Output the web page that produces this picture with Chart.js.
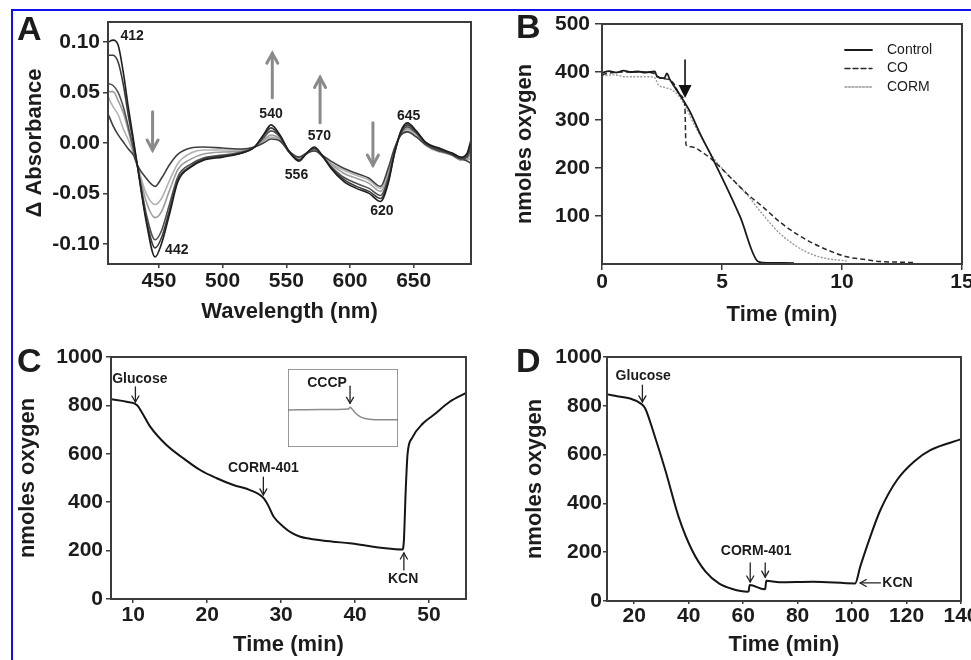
<!DOCTYPE html>
<html>
<head>
<meta charset="utf-8">
<script src="https://cdn.jsdelivr.net/npm/chart.js@4.4.0/dist/chart.umd.min.js"></script>
<style>
  html, body { margin: 0; padding: 0; background: #fff; width: 971px; height: 660px; overflow: hidden; position: relative; }
  canvas { position: absolute; }
  #frame { position: absolute; left: 11px; top: 9px; width: 980px; height: 670px; border-top: 2px solid #1010f0; border-left: 2px solid #1010f0; }
</style>
</head>
<body>
<div id="frame"></div>
<canvas id="panelA"></canvas>
<canvas id="panelB"></canvas>
<canvas id="panelC"></canvas>
<canvas id="panelD"></canvas>
<canvas id="insetC"></canvas>
<script>
// Panel A: difference spectra (delta absorbance vs wavelength)
const wavelengthNm = [410, 414, 418, 422, 426, 430, 433, 440, 447, 452, 458, 465, 475, 485, 500, 515, 525, 532, 538, 545, 552, 560,
  566, 572, 578, 585, 595, 605, 615, 624, 630, 635, 640, 645, 652, 660, 670, 680, 687, 692, 695];
const spectrum1 = [0.100, 0.102, 0.097, 0.070, 0.035, 0.003, -0.022, -0.078, -0.113, -0.100, -0.072, -0.038, -0.024, -0.017, -0.014, -0.010, -0.004, 0.008, 0.018, 0.008, -0.008, -0.018,
  -0.010, -0.004, -0.012, -0.025, -0.038, -0.045, -0.050, -0.058, -0.040, -0.010, 0.012, 0.020, 0.012, 0.000, -0.005, -0.010, -0.014, -0.010, 0.003];
const spectrum2 = [0.087, 0.087, 0.080, 0.058, 0.027, 0.000, -0.022, -0.075, -0.104, -0.094, -0.068, -0.036, -0.023, -0.016, -0.013, -0.010, -0.004, 0.007, 0.015, 0.007, -0.008, -0.017,
  -0.010, -0.005, -0.012, -0.024, -0.036, -0.043, -0.048, -0.055, -0.038, -0.010, 0.011, 0.018, 0.011, 0.000, -0.006, -0.011, -0.015, -0.012, 0.000];
const spectrum3 = [0.059, 0.057, 0.050, 0.036, 0.016, -0.006, -0.022, -0.070, -0.096, -0.087, -0.062, -0.033, -0.021, -0.015, -0.012, -0.009, -0.004, 0.005, 0.012, 0.006, -0.009, -0.017,
  -0.010, -0.006, -0.013, -0.023, -0.034, -0.040, -0.045, -0.052, -0.035, -0.008, 0.010, 0.016, 0.010, -0.001, -0.007, -0.012, -0.016, -0.014, -0.005];
const spectrum4 = [0.051, 0.051, 0.042, 0.030, 0.012, -0.008, -0.022, -0.058, -0.074, -0.068, -0.048, -0.026, -0.016, -0.011, -0.009, -0.008, -0.004, 0.003, 0.008, 0.004, -0.009, -0.016,
  -0.011, -0.007, -0.013, -0.021, -0.030, -0.035, -0.040, -0.048, -0.032, -0.007, 0.009, 0.014, 0.009, -0.002, -0.008, -0.012, -0.017, -0.016, -0.010];
const spectrum5 = [0.046, 0.036, 0.028, 0.014, 0.003, -0.010, -0.022, -0.050, -0.061, -0.055, -0.038, -0.020, -0.010, -0.007, -0.007, -0.007, -0.004, 0.002, 0.006, 0.003, -0.008, -0.015,
  -0.010, -0.007, -0.012, -0.020, -0.027, -0.032, -0.037, -0.045, -0.028, -0.006, 0.008, 0.012, 0.007, -0.003, -0.009, -0.011, -0.016, -0.017, -0.015];
const spectrum6 = [0.029, 0.017, 0.008, 0.001, -0.006, -0.012, -0.022, -0.035, -0.043, -0.035, -0.022, -0.011, -0.005, -0.004, -0.005, -0.006, -0.004, 0.000, 0.004, 0.002, -0.008, -0.014,
  -0.010, -0.008, -0.012, -0.018, -0.025, -0.030, -0.035, -0.043, -0.025, -0.005, 0.008, 0.011, 0.006, -0.002, -0.008, -0.010, -0.015, -0.018, -0.020];
const aXTicks = [450, 500, 550, 600, 650];
const aYTicks = [-0.10, -0.05, 0, 0.05, 0.10];

// Panel B: oxygen consumption, three traces
const controlTime = [0, 0.3, 0.6, 0.9, 1.2, 1.5, 1.8, 2.2, 2.3, 2.6, 2.7, 2.83, 3.25, 3.67, 4.08, 4.64, 5.75, 6.5, 6.7, 8.0];
const controlO2 = [398, 402, 399, 403, 400, 401, 399, 401, 390, 387, 397, 384, 352, 317, 272, 217, 99, 5, 3, 2];
const coTime = [0, 0.5, 1.0, 1.5, 2.0, 2.2, 2.4, 2.8, 3.0, 3.25, 3.45, 3.5, 3.75, 4.2, 4.6, 5.3, 6.03, 6.7, 7.4, 8.1, 8.8, 9.5, 10.2, 11.0, 11.6, 12.3, 13.0];
const coO2 = [395, 399, 400, 400, 399, 396, 388, 384, 375, 352, 332, 248, 244, 232, 217, 183, 147, 119, 88, 63, 43, 27, 15, 9, 5, 4, 3];
const cormTime = [0, 0.5, 1.0, 1.5, 2.0, 2.2, 2.35, 2.6, 2.9, 3.2, 3.46, 3.8, 4.2, 4.6, 5.3, 6.0, 6.7, 7.4, 8.1, 8.8, 9.4, 9.9, 10.2];
const cormO2 = [392, 394, 390, 390, 390, 388, 373, 368, 363, 350, 330, 295, 258, 224, 183, 147, 103, 64, 37, 19, 11, 8, 6];
const bXTicks = [0, 5, 10, 15];
const bYTicks = [100, 200, 300, 400, 500];
const bSeriesNames = ['Control', 'CO', 'CORM'];

// Panel C: glucose / CORM-401 / KCN trace
const cTime = [7, 9.1, 10.5, 11.2, 12.3, 14.5, 16.8, 19.05, 21.3, 23.55, 25.8, 27.6, 28.2, 29.0, 30.3, 31.5, 32.6, 34.8, 37.0, 39.3,
  41.6, 43.8, 46.4, 46.6, 46.85, 47.1, 47.7, 49.2, 50.6, 52.8, 55];
const cO2 = [825, 815, 802, 770, 712, 636, 581, 533, 499, 471, 450, 418, 390, 340, 299, 272, 257, 245, 237, 230,
  220, 211, 205, 240, 450, 600, 665, 726, 760, 815, 852];
const cXTicks = [10, 20, 30, 40, 50];
const cYTicks = [0, 200, 400, 600, 800, 1000];
// inset of panel C (arbitrary units)
const insetX = [0, 30, 55, 56.5, 58, 61, 65.5, 70, 76, 85, 100];
const insetY = [47.5, 48, 48.8, 51, 49, 44, 39, 36.5, 35.3, 35, 35];

// Panel D: glucose / two CORM-401 additions / KCN trace
const dTime = [10, 22.7, 24.0, 27.6, 31.4, 36.3, 41.2, 46.2, 51.1, 56.05, 61.6, 62.0, 62.4, 67.8, 68.1, 68.5, 73.3, 85.7, 101.1, 103,
  106.7, 110.4, 116.5, 122.7, 128.9, 140];
const dO2 = [847, 807, 790, 673, 537, 345, 209, 120, 72, 49, 38, 40, 66, 48, 50, 83, 77, 79, 72, 141,
  264, 373, 496, 571, 619, 663];
const dXTicks = [20, 40, 60, 80, 100, 120, 140];
const dYTicks = [0, 200, 400, 600, 800, 1000];

// annotations, in data coordinates of each panel
const aLabels = [
  { text: '412', x: 429, y: 0.106 }, { text: '442', x: 464, y: -0.106 }, { text: '540', x: 538, y: 0.029 },
  { text: '556', x: 558, y: -0.032 }, { text: '570', x: 576, y: 0.007 }, { text: '620', x: 625, y: -0.068 },
  { text: '645', x: 646, y: 0.027 }
];
const aArrows = [
  { x1: 445, y1: 0.031, x2: 445, y2: -0.007 }, { x1: 539, y1: 0.045, x2: 539, y2: 0.089 },
  { x1: 576.5, y1: 0.020, x2: 576.5, y2: 0.065 }, { x1: 618, y1: 0.020, x2: 618, y2: -0.022 }
];
const bArrows = [{ x1: 3.46, y1: 425, x2: 3.46, y2: 346 }];
const cLabels = [
  { text: 'Glucose', x: 10.9, y: 909 }, { text: 'CORM-401', x: 27.6, y: 541 }, { text: 'KCN', x: 46.5, y: 83 }
];
const cArrows = [
  { x1: 10.3, y1: 876, x2: 10.3, y2: 814 }, { x1: 27.6, y1: 504, x2: 27.6, y2: 430 }, { x1: 46.6, y1: 120, x2: 46.6, y2: 190 }
];
const insetLabels = [{ text: 'CCCP', x: 35.5, y: 82 }];
const insetArrows = [{ x1: 56.4, y1: 78, x2: 56.4, y2: 56 }];
const dLabels = [
  { text: 'Glucose', x: 23.3, y: 922 }, { text: 'CORM-401', x: 64.8, y: 205 }, { text: 'KCN', x: 111.1, y: 74, align: 'left' }
];
const dArrows = [
  { x1: 23.0, y1: 885, x2: 23.0, y2: 816 }, { x1: 62.6, y1: 156, x2: 62.6, y2: 78 },
  { x1: 68.1, y1: 156, x2: 68.1, y2: 98 }, { x1: 110.4, y1: 74, x2: 103, y2: 74 }
];

const FONT = '"Liberation Sans", Arial, Helvetica, sans-serif';
const INK = '#1c1c1c';
const AXIS = '#3c3c3c';

function xy(xs, ys) {
  return xs.map((v, i) => ({ x: v, y: ys[i] }));
}

function placeCanvas(id, box) {
  const c = document.getElementById(id);
  c.width = box.r - box.l;
  c.height = box.b - box.t;
  c.style.left = box.l + 'px';
  c.style.top = box.t + 'px';
  c.style.width = c.width + 'px';
  c.style.height = c.height + 'px';
  return c;
}

function drawArrow(ctx, x1, y1, x2, y2, st) {
  const ang = Math.atan2(y2 - y1, x2 - x1);
  const bx = x2 - st.head * Math.cos(ang), by = y2 - st.head * Math.sin(ang);
  const nx = -Math.sin(ang) * st.spread, ny = Math.cos(ang) * st.spread;
  ctx.strokeStyle = st.color;
  ctx.fillStyle = st.color;
  ctx.lineWidth = st.width;
  ctx.lineCap = 'round';
  ctx.beginPath();
  ctx.moveTo(x1, y1);
  ctx.lineTo(st.fill ? bx : x2, st.fill ? by : y2);
  ctx.stroke();
  ctx.beginPath();
  ctx.moveTo(bx + nx, by + ny);
  ctx.lineTo(x2, y2);
  ctx.lineTo(bx - nx, by - ny);
  if (st.fill) { ctx.closePath(); ctx.fill(); } else { ctx.stroke(); }
}

function axis(o) {
  const lh = 22 * 1.2;
  return {
    type: 'linear',
    min: o.min,
    max: o.max,
    display: o.display !== false,
    afterBuildTicks: s => { if (o.ticks) s.ticks = o.ticks.map(v => ({ value: v })); },
    afterFit: s => {
      if (o.size === undefined) return;
      if (s.isHorizontal()) { s.height = o.size; s.paddingLeft = 0; s.paddingRight = 0; }
      else { s.width = o.size; s.paddingTop = 0; s.paddingBottom = 0; }
    },
    grid: { display: true, drawOnChartArea: false, drawTicks: true, tickLength: o.tl, color: AXIS, lineWidth: 1.5 },
    border: { display: true, color: AXIS, width: 2 },
    ticks: {
      padding: o.pad, color: INK, autoSkip: false, maxRotation: 0,
      font: { family: FONT, size: 21, weight: 'bold' },
      callback: o.fmt || (v => String(v))
    },
    title: {
      display: !!o.title, text: o.title, color: INK,
      font: { family: FONT, size: 22, weight: 'bold' },
      padding: o.titlePad !== undefined ? o.titlePad - lh / 2 : 0
    }
  };
}

function extras(o) {
  return {
    id: 'extras' + o.name,
    afterDraw(chart) {
      const { ctx, chartArea: a } = chart;
      const px = v => chart.scales.x.getPixelForValue(v);
      const py = v => chart.scales.y.getPixelForValue(v);
      ctx.save();
      if (o.box) {
        ctx.strokeStyle = o.boxColor || AXIS;
        ctx.lineWidth = o.boxWidth || 2;
        ctx.strokeRect(a.left, a.top, a.right - a.left, a.bottom - a.top);
      }
      if (o.letter) {
        ctx.font = 'bold 34px ' + FONT;
        ctx.fillStyle = INK;
        ctx.textAlign = 'left';
        ctx.textBaseline = 'alphabetic';
        ctx.fillText(o.letter, o.letterAt[0] - o.origin.l, o.letterAt[1] - o.origin.t);
      }
      ctx.font = o.labelFont;
      ctx.fillStyle = INK;
      ctx.textBaseline = 'middle';
      (o.labels || []).forEach(n => {
        ctx.textAlign = n.align || 'center';
        ctx.fillText(n.text, px(n.x), py(n.y));
      });
      (o.arrows || []).forEach(r => drawArrow(ctx, px(r.x1), py(r.y1), px(r.x2), py(r.y2), o.arrowStyle));
      if (o.legend) o.legend(ctx, a, chart);
      ctx.restore();
    }
  };
}

function panel(id, box, plot, datasets, xo, yo, plugin) {
  const c = placeCanvas(id, box);
  xo.size = box.b - plot.b;
  yo.size = plot.l - box.l;
  xo.titlePad = box.b - xo.titleAt;
  yo.titlePad = yo.titleAt - box.l;
  return new Chart(c, {
    type: 'line',
    data: { datasets },
    options: {
      responsive: false,
      animation: false,
      events: [],
      layout: { padding: { top: plot.t - box.t, right: box.r - plot.r, left: 0, bottom: 0 } },
      elements: { point: { radius: 0 }, line: { cubicInterpolationMode: 'monotone' } },
      plugins: { legend: { display: false }, tooltip: { enabled: false } },
      scales: { x: axis(xo), y: axis(yo) }
    },
    plugins: [plugin]
  });
}

const thinArrow = { color: '#222', width: 1.3, head: 6, spread: 3.5, fill: false };

// ---------- Panel A ----------
const boxA = { l: 14, t: 12, r: 490, b: 330 };
const spectra = [spectrum1, spectrum2, spectrum3, spectrum6, spectrum4, spectrum5];
const spectraShade = ['#1e1e1e', '#3a3a3a', '#505050', '#3f3f3f', '#9c9c9c', '#b2b2b2'];
panel('panelA', boxA, { l: 108, t: 22, r: 471, b: 264 },
  spectra.map((s, i) => ({ data: xy(wavelengthNm, s), borderColor: spectraShade[i], borderWidth: 1.6, fill: false })),
  { min: 410, max: 695, ticks: aXTicks, tl: 4, pad: 1, title: 'Wavelength (nm)', titleAt: 312 },
  { min: -0.12, max: 0.12, ticks: aYTicks, tl: 5, pad: 3, title: '\u0394 Absorbance', titleAt: 35, fmt: v => v.toFixed(2) },
  extras({
    name: 'A', box: true, letter: 'A', letterAt: [17, 40], origin: boxA,
    labelFont: 'bold 14px ' + FONT, labels: aLabels, arrows: aArrows,
    arrowStyle: { color: '#8a8a8a', width: 3, head: 10, spread: 5.5, fill: false }
  }));

// ---------- Panel B ----------
const boxB = { l: 490, t: 12, r: 1000, b: 330 };
const bStyles = [
  { borderColor: '#1a1a1a', borderWidth: 1.8, borderDash: [] },
  { borderColor: '#2a2a2a', borderWidth: 1.5, borderDash: [5, 3] },
  { borderColor: '#9a9a9a', borderWidth: 1.4, borderDash: [2, 1.5] }
];
const bData = [xy(controlTime, controlO2), xy(coTime, coO2), xy(cormTime, cormO2)];
panel('panelB', boxB, { l: 602, t: 24, r: 962, b: 264 },
  bData.map((d, i) => Object.assign({ label: bSeriesNames[i], data: d, fill: false }, bStyles[i])),
  { min: 0, max: 15, ticks: bXTicks, tl: 6, pad: 0, title: 'Time (min)', titleAt: 315 },
  { min: 0, max: 500, ticks: bYTicks, tl: 7, pad: 5, title: 'nmoles oxygen', titleAt: 525 },
  extras({
    name: 'B', box: true, letter: 'B', letterAt: [516, 38], origin: boxB,
    labelFont: 'bold 14px ' + FONT, arrows: bArrows,
    arrowStyle: { color: '#111', width: 1.6, head: 13, spread: 6.5, fill: true },
    legend: (ctx, a, chart) => {
      ctx.font = '14px ' + FONT;
      ctx.textAlign = 'left';
      ctx.textBaseline = 'middle';
      chart.data.datasets.forEach((ds, i) => {
        const y = a.top + 26 + i * 18.5;
        ctx.strokeStyle = ds.borderColor;
        ctx.lineWidth = ds.borderWidth;
        ctx.setLineDash(ds.borderDash);
        ctx.beginPath();
        ctx.moveTo(a.right - 117, y);
        ctx.lineTo(a.right - 90, y);
        ctx.stroke();
        ctx.setLineDash([]);
        ctx.fillStyle = INK;
        ctx.fillText(ds.label, a.right - 75, y);
      });
    }
  }));

// ---------- Panel C ----------
const boxC = { l: 14, t: 330, r: 490, b: 660 };
panel('panelC', boxC, { l: 111, t: 357, r: 466, b: 599 },
  [{ data: xy(cTime, cO2), borderColor: '#151515', borderWidth: 2, fill: false }],
  { min: 7, max: 55, ticks: cXTicks, tl: 4, pad: 0, title: 'Time (min)', titleAt: 645 },
  { min: 0, max: 1000, ticks: cYTicks, tl: 5, pad: 3, title: 'nmoles oxygen', titleAt: 28 },
  extras({
    name: 'C', box: true, letter: 'C', letterAt: [17, 372], origin: boxC,
    labelFont: 'bold 14px ' + FONT, labels: cLabels, arrows: cArrows, arrowStyle: thinArrow
  }));

// inset of panel C
const insetBox = { l: 288, t: 369, r: 398, b: 447 };
new Chart(placeCanvas('insetC', insetBox), {
  type: 'line',
  data: { datasets: [{ data: xy(insetX, insetY), borderColor: '#8c8c8c', borderWidth: 1.5, fill: false }] },
  options: {
    responsive: false, animation: false, events: [],
    layout: { padding: 0 },
    elements: { point: { radius: 0 }, line: { cubicInterpolationMode: 'monotone' } },
    plugins: { legend: { display: false }, tooltip: { enabled: false } },
    scales: {
      x: { type: 'linear', min: 0, max: 100, display: false },
      y: { type: 'linear', min: 0, max: 100, display: false }
    }
  },
  plugins: [extras({
    name: 'inset', box: true, boxColor: '#777', boxWidth: 1.5,
    labelFont: 'bold 14px ' + FONT, labels: insetLabels, arrows: insetArrows, arrowStyle: thinArrow
  })]
});

// ---------- Panel D ----------
const boxD = { l: 490, t: 330, r: 1000, b: 660 };
panel('panelD', boxD, { l: 607, t: 357, r: 961, b: 601 },
  [{ data: xy(dTime, dO2), borderColor: '#151515', borderWidth: 2, fill: false }],
  { min: 10, max: 140, ticks: dXTicks, tl: 3, pad: 0, title: 'Time (min)', titleAt: 645 },
  { min: 0, max: 1000, ticks: dYTicks, tl: 4, pad: 1, title: 'nmoles oxygen', titleAt: 535 },
  extras({
    name: 'D', box: true, letter: 'D', letterAt: [516, 372], origin: boxD,
    labelFont: 'bold 14px ' + FONT, labels: dLabels, arrows: dArrows, arrowStyle: thinArrow
  }));
</script>
</body>
</html>
